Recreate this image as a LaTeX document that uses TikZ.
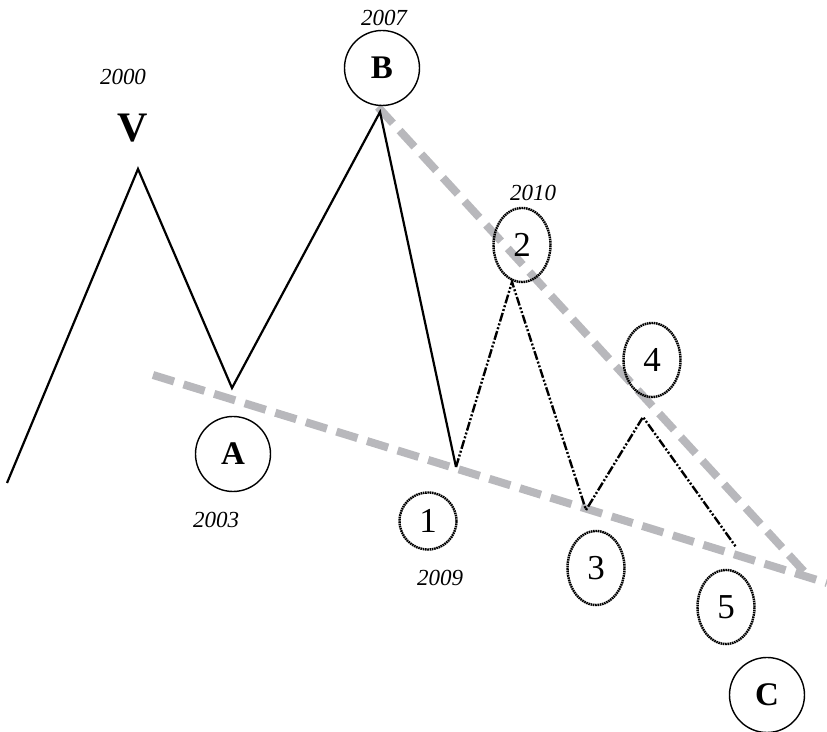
\documentclass[tikz,border=0pt]{standalone}
\usepackage{fontspec}
\setmainfont{Liberation Serif}
\usetikzlibrary{positioning,shapes.geometric}
\definecolor{trendgray}{RGB}{184,184,188}
\begin{document}
\begin{tikzpicture}[
        x=0.5pt, y=-0.5pt,
        wave/.style={line width=1.1pt, black, line join=miter},
        subwave/.style={line width=1.2pt, black, dash pattern=on 4.5pt off 1pt on 1pt off 1pt on 1pt off 1pt},
        trend/.style={line width=4pt, trendgray, dash pattern=on 11pt off 5pt},
        bigpt/.style={circle, draw, line width=0.7pt, minimum size=37.5pt, inner sep=0pt,
            font=\fontsize{16.5}{18}\selectfont\bfseries},
        smallpt/.style={ellipse, draw, line width=1.2pt, dash pattern=on 0.8pt off 0.35pt,
            minimum width=28.5pt, minimum height=37pt, inner sep=0pt,
            font=\fontsize{17.5}{19}\selectfont},
        year/.style={font=\fontsize{11.5}{12}\selectfont\itshape},
    ]
        \useasboundingbox (0,0) rectangle (827,732);

        % Turning points
        \coordinate (p0) at (7,483);
        \coordinate (pV) at (138,169);
        \coordinate (pA) at (232,388);
        \coordinate (pB) at (380,112);
        \coordinate (p1) at (456,467);
        \coordinate (p2) at (512,282);
        \coordinate (p3) at (586,510);
        \coordinate (p4) at (643,417);
        \coordinate (p5) at (736,547);

        % Trend lines
        \coordinate (lowS) at (153,375);
        \coordinate (lowE) at (827,583);
        \coordinate (upS) at (378,107);
        \coordinate (upE) at (810,578);
        \draw[trend] (lowS) -- (lowE);
        \draw[trend] (upS) -- (upE);

        % Main wave
        \draw[wave] (p0) -- (pV) -- (pA) -- (pB) -- (p1);
        \draw[subwave] (p1) -- (p2) -- (p3) -- (p4) -- (p5);

        % Labels
        \node[font=\fontsize{21}{22}\selectfont\bfseries] (labV) at (133,128) {V};
        \node[year] (yV) at (123,77) {2000};
        \node[bigpt] (labB) at (382,68) {B};
        \node[year] (yB) at (384,18) {2007};
        \node[bigpt] (labA) at (233,454) {A};
        \node[year] (yA) at (216,520) {2003};
        \node[bigpt] (labC) at (767,695) {C};
        \node[smallpt, minimum height=28.5pt] (lab1) at (428,521) {1};
        \node[year] (y1) at (440,578) {2009};
        \node[smallpt] (lab2) at (522,245) {2};
        \node[year] (y2) at (533,193) {2010};
        \node[smallpt] (lab3) at (596,568) {3};
        \node[smallpt] (lab4) at (652,360) {4};
        \node[smallpt] (lab5) at (726,607) {5};
    \end{tikzpicture}
\end{document}
